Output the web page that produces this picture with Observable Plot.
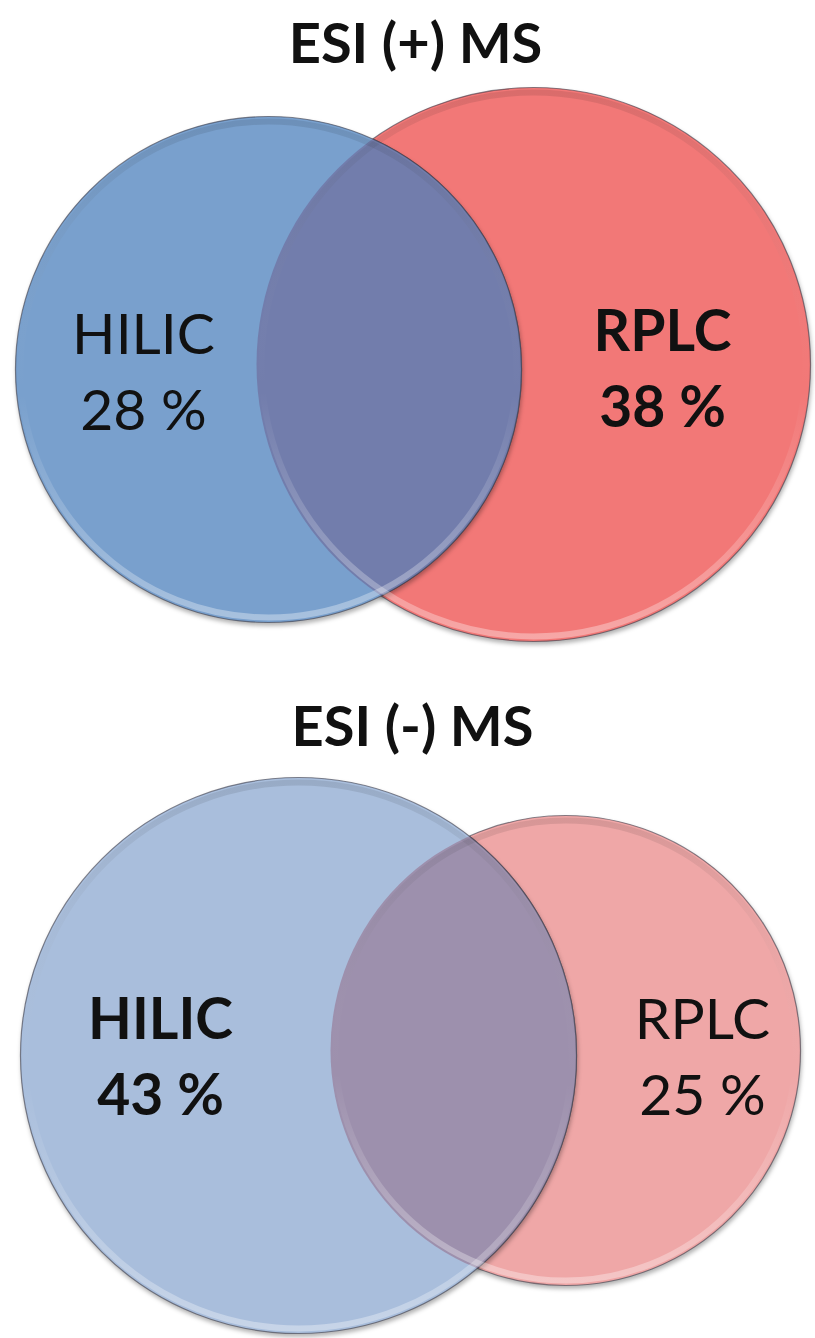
<!DOCTYPE html>
<html>
<head>
<meta charset="utf-8">
<script src="https://cdn.jsdelivr.net/npm/d3@7"></script>
<script src="https://cdn.jsdelivr.net/npm/@observablehq/plot@0.6"></script>
<style>
  html, body { margin: 0; padding: 0; background: #fff; }
  #chart svg { display: block; }
  #chart circle[aria-label="set"] { filter: drop-shadow(1px 3px 2px rgba(0,0,0,0.3)); }
</style>
</head>
<body>
<div id="chart"></div>
<script>
// Share of features detected only by each separation, per ionisation mode
const modes = ["ESI (+) MS", "ESI (-) MS"];
const methods = ["HILIC", "RPLC"];
const hilicShare = [28, 43];
const rplcShare = [38, 25];

// Venn layout (drawing units): circle centre and radius per mode and method
const hilicCircle = [[268, 369, 253], [298, 1055, 278]];
const rplcCircle = [[533, 364, 277], [565, 1050, 235]];
const titlePos = [[415, 62], [412, 745]];
const hilicLabelPos = [[143, 353], [160, 1038]];
const rplcLabelPos = [[662, 350], [702, 1038]];
const lineGap = 76;

// Fills per mode: [HILIC, RPLC, overlap]
const palette = [
  ["#79a0cd", "#f27877", "#727dac"],
  ["#a9bedc", "#efa7a7", "#9d90ad"]
];

const circles = [];
const overlaps = [];
const labels = [];
modes.forEach((mode, i) => {
  const shares = [hilicShare[i], rplcShare[i]];
  const geo = [hilicCircle[i], rplcCircle[i]];
  const pos = [hilicLabelPos[i], rplcLabelPos[i]];
  const top = shares[0] >= shares[1] ? 0 : 1;
  // RPLC first, HILIC drawn above it
  [1, 0].forEach(k => {
    circles.push({mode, method: methods[k], x: geo[k][0], y: geo[k][1], r: geo[k][2], fill: palette[i][k]});
  });
  overlaps.push({mode, x: geo[0][0], y: geo[0][1], r: geo[0][2], fill: palette[i][2]});
  methods.forEach((m, k) => {
    labels.push({mode, name: m, value: `${shares[k]} %`, x: pos[k][0], y: pos[k][1], bold: k === top});
  });
});
const titles = modes.map((m, i) => ({text: m, x: titlePos[i][0], y: titlePos[i][1]}));

const font = "Lato, 'Open Sans', sans-serif";
const textMarks = (bold) => {
  const rows = labels.filter(d => d.bold === bold);
  return [
    Plot.text(rows, {x: "x", y: "y", text: "name", textAnchor: "middle", lineAnchor: "bottom",
      fontSize: 57, fontWeight: bold ? "bold" : "normal", fill: "#111", fontFamily: font}),
    Plot.text(rows, {x: "x", y: d => d.y + lineGap, text: "value", textAnchor: "middle", lineAnchor: "bottom",
      fontSize: 57, fontWeight: bold ? "bold" : "normal", fill: "#111", fontFamily: font})
  ];
};

const chart = Plot.plot({
  width: 815,
  height: 1338,
  margin: 0,
  x: {domain: [0, 815], range: [0, 815], axis: null},
  y: {domain: [0, 1338], range: [0, 1338], axis: null},
  r: {type: "identity"},
  style: {background: "#fff", overflow: "visible"},
  marks: [
    Plot.dot(circles, {x: "x", y: "y", r: "r", fill: "fill", fillOpacity: 1, sort: null,
      stroke: "#3a3a48", strokeOpacity: 0.6, strokeWidth: 1.2, ariaLabel: () => "set"}),
    Plot.dot(overlaps, {x: "x", y: "y", r: "r", fill: "fill", sort: null, stroke: "#3a3a48",
      strokeOpacity: 0.6, strokeWidth: 1.2, ariaLabel: () => "overlap"}),
    // bevel ring just inside every circle edge
    Plot.dot(circles, {x: "x", y: "y", r: d => d.r - 5, fill: "none", stroke: "url(#bevel)", sort: null,
      strokeWidth: 6, ariaLabel: () => "bevel"}),
    Plot.text(titles, {x: "x", y: "y", text: "text", textAnchor: "middle", lineAnchor: "bottom",
      fontSize: 56, fontWeight: "bold", fill: "#111", fontFamily: font}),
    ...textMarks(false),
    ...textMarks(true)
  ]
});

// Gradient for the bevel ring and clip paths restricting the overlap to the RPLC disc
const svg = d3.select(chart);
const defs = svg.insert("defs", ":first-child");
const grad = defs.append("linearGradient").attr("id", "bevel")
  .attr("x1", 0).attr("y1", 0).attr("x2", 0).attr("y2", 1);
grad.append("stop").attr("offset", "0%").attr("stop-color", "#000").attr("stop-opacity", 0.10);
grad.append("stop").attr("offset", "55%").attr("stop-color", "#fff").attr("stop-opacity", 0.0);
grad.append("stop").attr("offset", "100%").attr("stop-color", "#fff").attr("stop-opacity", 0.35);

const dotGroups = chart.querySelectorAll('g[aria-label="dot"]');
const setCircles = dotGroups[0].querySelectorAll("circle");
const overlapCircles = dotGroups[1].querySelectorAll("circle");
overlapCircles.forEach((c, i) => {
  const red = setCircles[i * 2]; // RPLC circle of the same mode
  const id = `clip-rplc-${i}`;
  const clip = defs.append("clipPath").attr("id", id).append("circle").attr("r", red.getAttribute("r"));
  if (red.hasAttribute("cx")) {
    clip.attr("cx", red.getAttribute("cx")).attr("cy", red.getAttribute("cy"));
  } else {
    clip.attr("transform", red.getAttribute("transform"));
  }
  // wrap the overlap disc so the clip is resolved in the group's coordinate space
  const wrap = document.createElementNS("http://www.w3.org/2000/svg", "g");
  wrap.setAttribute("clip-path", `url(#${id})`);
  c.parentNode.insertBefore(wrap, c);
  wrap.appendChild(c);
});

document.getElementById("chart").append(chart);
</script>
</body>
</html>
